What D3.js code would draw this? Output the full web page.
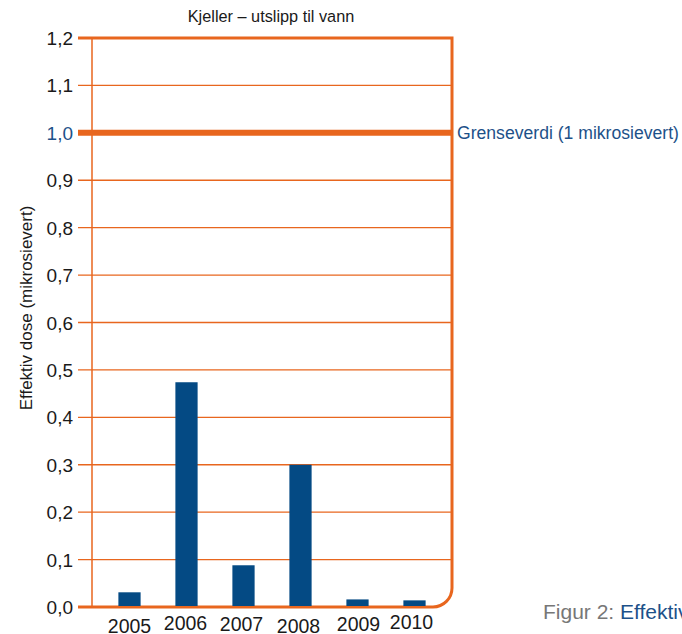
<!DOCTYPE html>
<html>
<head>
<meta charset="utf-8">
<script src="https://cdn.jsdelivr.net/npm/d3@7"></script>
<style>
  html, body { margin: 0; padding: 0; background: #fff; }
  svg { display: block; font-family: "Liberation Sans", Arial, sans-serif; }
</style>
</head>
<body>
<svg id="chart" width="682" height="634"></svg>
<script>
// Effektiv dose per år, Kjeller – utslipp til vann
const years = ["2005", "2006", "2007", "2008", "2009", "2010"];
const doses = [0.031, 0.474, 0.088, 0.300, 0.016, 0.014];
const yTicks = [0, 0.1, 0.2, 0.3, 0.4, 0.5, 0.6, 0.7, 0.8, 0.9, 1.0, 1.1, 1.2];
const limitValue = 1.0;
// year labels sit slightly unevenly under the bars
const yearLabelX = [0, -1, -2, -2, 1, -3];
const yearLabelBaseline = [633, 630, 631, 633, 631, 629];

const orange = "#e8661e";
const barBlue = "#044a84";
const textBlue = "#1d5189";
const ink = "#1a1a1a";

const svg = d3.select("#chart");

const plotLeft = 92, plotRight = 452, plotTop = 38, plotBottom = 607;

const y = d3.scaleLinear().domain([0, 1.2]).range([plotBottom, plotTop]);
const x = d3.scaleBand().domain(years).range([101, 443]).paddingInner(0.61).paddingOuter(0.305);

// Gridlines with tick stubs
svg.append("g")
  .selectAll("line")
  .data(yTicks.filter(v => v > 0 && v < 1.2 && v !== limitValue))
  .join("line")
  .attr("x1", 78).attr("x2", plotRight)
  .attr("y1", d => y(d)).attr("y2", d => y(d))
  .attr("stroke", orange).attr("stroke-width", 1.3);

// Vertical axis line
svg.append("line")
  .attr("x1", plotLeft).attr("x2", plotLeft)
  .attr("y1", y(1.2)).attr("y2", y(0))
  .attr("stroke", orange).attr("stroke-width", 1.5);

// Frame: top edge, right edge with rounded bottom corner, bottom edge
const r = 19;
svg.append("path")
  .attr("d", `M78,${y(1.2)} H${plotRight} V${y(0) - r} A${r},${r} 0 0 1 ${plotRight - r},${y(0)} H78`)
  .attr("fill", "none")
  .attr("stroke", orange)
  .attr("stroke-width", 3);

// Bars
svg.append("g")
  .selectAll("rect")
  .data(years.map((yr, i) => ({ yr, v: doses[i] })))
  .join("rect")
  .attr("x", d => x(d.yr))
  .attr("width", x.bandwidth())
  .attr("y", d => y(d.v))
  .attr("height", d => y(0) - y(d.v) - 1)
  .attr("fill", barBlue);

// Limit line
svg.append("line")
  .attr("x1", 78).attr("x2", plotRight)
  .attr("y1", y(limitValue)).attr("y2", y(limitValue))
  .attr("stroke", orange).attr("stroke-width", 6);

svg.append("text")
  .attr("x", 457).attr("y", y(limitValue) + 6)
  .attr("font-size", 17.6).attr("fill", textBlue)
  .text("Grenseverdi (1 mikrosievert)");

// Y tick labels
const fmt = d => d3.format(".1f")(d).replace(".", ",");
svg.append("g")
  .selectAll("text")
  .data(yTicks)
  .join("text")
  .attr("x", 73)
  .attr("y", d => y(d) + 7)
  .attr("text-anchor", "end")
  .attr("font-size", 19)
  .attr("fill", d => d === limitValue ? textBlue : ink)
  .text(fmt);

// Year labels
svg.append("g")
  .selectAll("text")
  .data(years)
  .join("text")
  .attr("x", (d, i) => x(d) + x.bandwidth() / 2 + yearLabelX[i])
  .attr("y", (d, i) => yearLabelBaseline[i])
  .attr("text-anchor", "middle")
  .attr("font-size", 19.5)
  .attr("fill", ink)
  .text(d => d);

// Title
svg.append("text")
  .attr("x", 271).attr("y", 22)
  .attr("text-anchor", "middle")
  .attr("font-size", 16.3).attr("fill", ink)
  .text("Kjeller – utslipp til vann");

// Y axis title
svg.append("text")
  .attr("transform", "translate(32,308) rotate(-90)")
  .attr("text-anchor", "middle")
  .attr("font-size", 17).attr("fill", ink)
  .text("Effektiv dose (mikrosievert)");

// Caption
const cap = svg.append("text")
  .attr("x", 543).attr("y", 619)
  .attr("font-size", 21);
cap.append("tspan").attr("fill", "#777").text("Figur 2: ");
cap.append("tspan").attr("fill", textBlue).text("Effektiv dose");
</script>
</body>
</html>
